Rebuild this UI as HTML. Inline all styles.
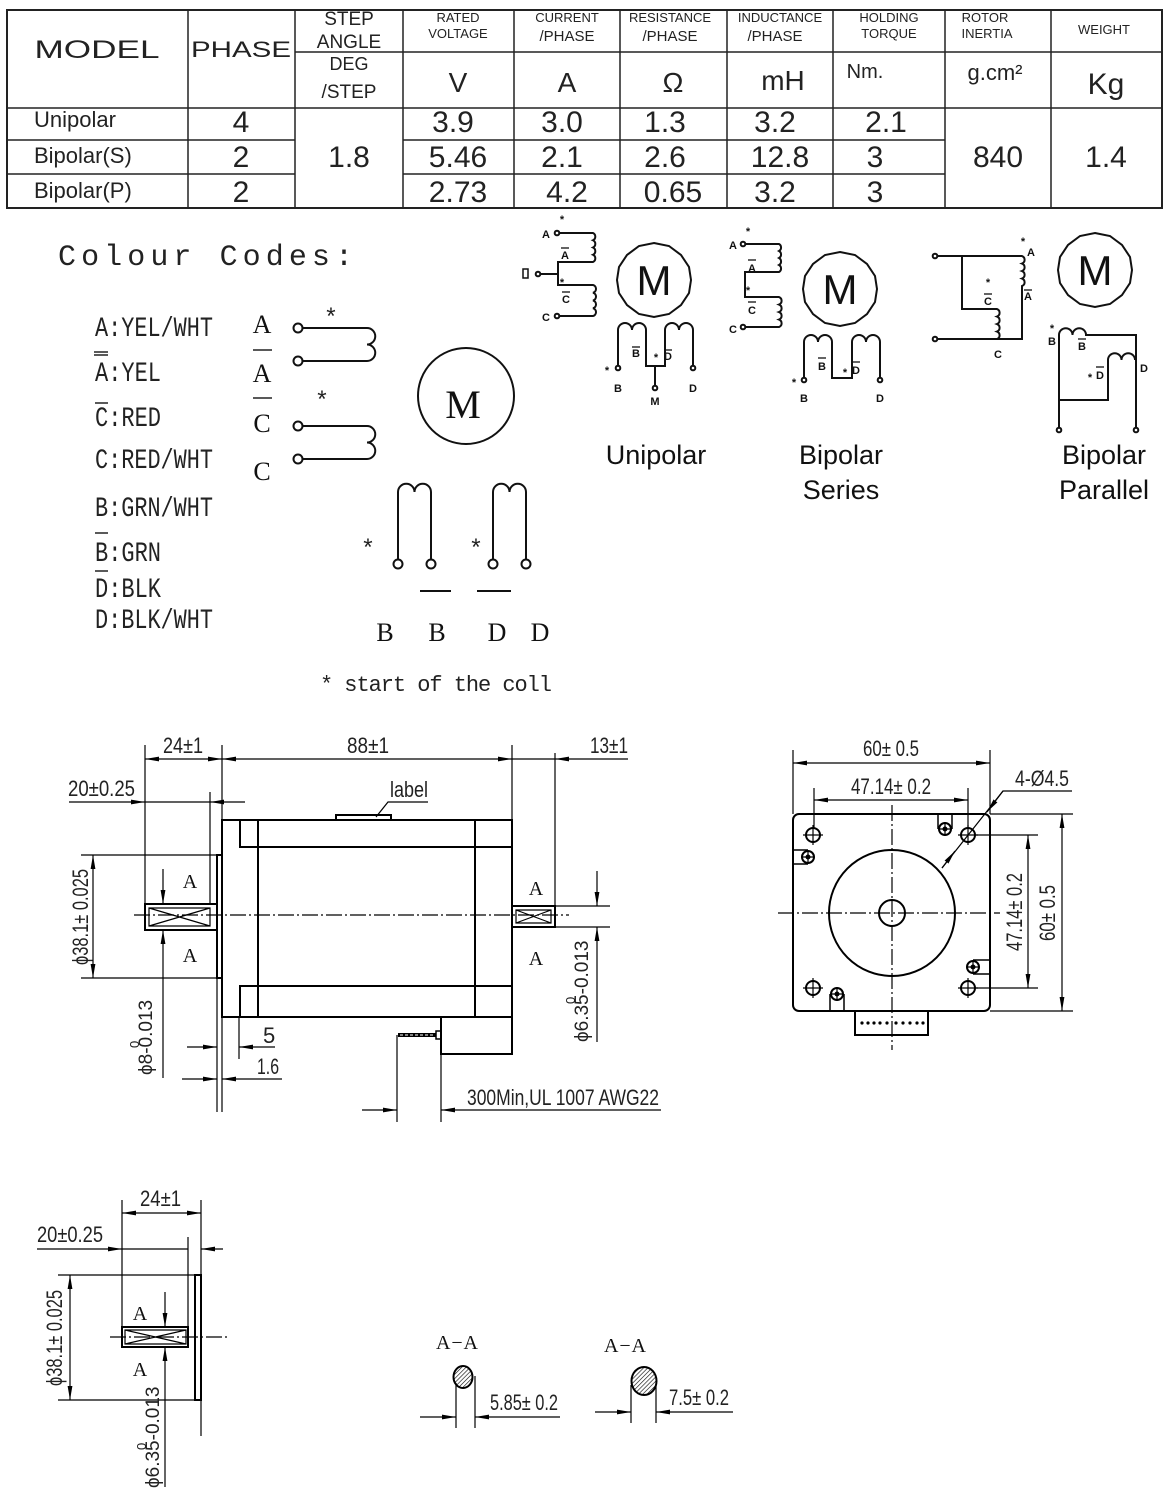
<!DOCTYPE html>
<html><head><meta charset="utf-8"><style>
html,body{margin:0;padding:0;background:#fff;}
svg{display:block;}
.c{font-family:"Liberation Sans Narrow","Liberation Sans",sans-serif;fill:#222;}
.m{font-family:"Liberation Mono",monospace;fill:#222;}
.s{font-family:"Liberation Serif",serif;fill:#111;}
.b{font-family:"Liberation Sans",sans-serif;fill:#111;font-weight:bold;}
.a{font-family:"Liberation Sans",sans-serif;fill:#111;}
</style></head><body>
<svg width="1166" height="1497" viewBox="0 0 1166 1497" xmlns="http://www.w3.org/2000/svg">
<defs>
<marker id="ar" viewBox="0 0 14 6" refX="14" refY="3" markerWidth="14" markerHeight="6" markerUnits="userSpaceOnUse" orient="auto-start-reverse"><path d="M0,0.6 L14,3 L0,5.4z" fill="#000"/></marker>
<pattern id="h" width="3" height="3" patternUnits="userSpaceOnUse" patternTransform="rotate(45)"><line x1="0" y1="0" x2="0" y2="3" stroke="#000" stroke-width="1.2"/></pattern>
</defs>

<!-- TABLE -->
<g stroke="#222" fill="none">
<rect x="7" y="10" width="1155" height="198" stroke-width="2"/>
<g stroke-width="1.5">
<line x1="188" y1="10" x2="188" y2="208"/><line x1="295" y1="10" x2="295" y2="208"/>
<line x1="403" y1="10" x2="403" y2="208"/><line x1="514" y1="10" x2="514" y2="208"/>
<line x1="620" y1="10" x2="620" y2="208"/><line x1="727" y1="10" x2="727" y2="208"/>
<line x1="833" y1="10" x2="833" y2="208"/><line x1="945" y1="10" x2="945" y2="208"/>
<line x1="1051" y1="10" x2="1051" y2="208"/>
<line x1="295" y1="52" x2="1162" y2="52"/>
<line x1="7" y1="108" x2="1162" y2="108"/>
<line x1="7" y1="140" x2="295" y2="140"/><line x1="403" y1="140" x2="945" y2="140"/>
<line x1="7" y1="174" x2="295" y2="174"/><line x1="403" y1="174" x2="945" y2="174"/>
</g></g>
<g class="c" text-anchor="middle">
<text x="97" y="58" font-size="25" textLength="125" lengthAdjust="spacingAndGlyphs">MODEL</text>
<text x="241" y="57" font-size="22" textLength="100" lengthAdjust="spacingAndGlyphs">PHASE</text>
<text x="349" y="25" font-size="19">STEP</text><text x="349" y="48" font-size="19">ANGLE</text>
<text x="349" y="70" font-size="18">DEG</text><text x="349" y="98" font-size="19">/STEP</text>
<text x="458" y="22" font-size="13">RATED</text><text x="458" y="38" font-size="13">VOLTAGE</text>
<text x="567" y="22" font-size="13">CURRENT</text><text x="567" y="41" font-size="15">/PHASE</text>
<text x="670" y="22" font-size="13">RESISTANCE</text><text x="670" y="41" font-size="15">/PHASE</text>
<text x="780" y="22" font-size="13">INDUCTANCE</text><text x="775" y="41" font-size="15">/PHASE</text>
<text x="889" y="22" font-size="13">HOLDING</text><text x="889" y="38" font-size="13">TORQUE</text>
<text x="985" y="22" font-size="13">ROTOR</text><text x="987" y="38" font-size="13">INERTIA</text>
<text x="1104" y="34" font-size="13">WEIGHT</text>
<text x="458" y="92" font-size="28">V</text><text x="567" y="92" font-size="28">A</text>
<text x="673" y="92" font-size="28">Ω</text><text x="783" y="90" font-size="28">mH</text>
<text x="865" y="78" font-size="20">Nm.</text><text x="995" y="80" font-size="22">g.cm²</text>
<text x="1106" y="94" font-size="30">Kg</text>
<g font-size="30">
<text x="241" y="132">4</text><text x="241" y="167">2</text><text x="241" y="202">2</text>
<text x="349" y="167">1.8</text>
<text x="453" y="132">3.9</text><text x="562" y="132">3.0</text><text x="665" y="132">1.3</text><text x="775" y="132">3.2</text><text x="886" y="132">2.1</text>
<text x="458" y="167">5.46</text><text x="562" y="167">2.1</text><text x="665" y="167">2.6</text><text x="780" y="167">12.8</text><text x="875" y="167">3</text>
<text x="458" y="202">2.73</text><text x="567" y="202">4.2</text><text x="673" y="202">0.65</text><text x="775" y="202">3.2</text><text x="875" y="202">3</text>
<text x="998" y="167">840</text><text x="1106" y="167">1.4</text>
</g></g>
<g class="c" font-size="22">
<text x="34" y="127">Unipolar</text><text x="34" y="163">Bipolar(S)</text><text x="34" y="198">Bipolar(P)</text>
</g>

<!-- COLOUR CODES -->
<text class="m" x="58" y="265" font-size="30" textLength="295" lengthAdjust="spacing">Colour Codes:</text>
<g class="m" font-size="28">
<text x="95" y="336" textLength="118" lengthAdjust="spacingAndGlyphs">A:YEL/WHT</text>
<text x="95" y="381" textLength="66" lengthAdjust="spacingAndGlyphs">A:YEL</text>
<text x="95" y="426" textLength="66" lengthAdjust="spacingAndGlyphs">C:RED</text>
<text x="95" y="468" textLength="118" lengthAdjust="spacingAndGlyphs">C:RED/WHT</text>
<text x="95" y="516" textLength="118" lengthAdjust="spacingAndGlyphs">B:GRN/WHT</text>
<text x="95" y="561" textLength="66" lengthAdjust="spacingAndGlyphs">B:GRN</text>
<text x="95" y="597" textLength="66" lengthAdjust="spacingAndGlyphs">D:BLK</text>
<text x="95" y="628" textLength="118" lengthAdjust="spacingAndGlyphs">D:BLK/WHT</text>
</g>
<g stroke="#222" stroke-width="1.5">
<line x1="94" y1="355" x2="108" y2="355"/><line x1="94" y1="352" x2="108" y2="352"/>
<line x1="95" y1="403" x2="108" y2="403"/><line x1="95" y1="533" x2="108" y2="533"/>
<line x1="95" y1="571" x2="108" y2="571"/>
<line x1="253" y1="350" x2="272" y2="350"/><line x1="253" y1="398" x2="272" y2="398"/>
</g>
<g class="s" font-size="26" text-anchor="middle">
<text x="262" y="333">A</text><text x="262" y="382">A</text><text x="262" y="432">C</text><text x="262" y="480">C</text>
<text x="463" y="418" font-size="40">M</text>
<text x="385" y="641">B</text><text x="437" y="641">B</text><text x="497" y="641">D</text><text x="540" y="641">D</text>
</g>
<g fill="none" stroke="#111" stroke-width="2">
<circle cx="298" cy="328" r="4.5"/><circle cx="298" cy="361" r="4.5"/>
<circle cx="298" cy="426" r="4.5"/><circle cx="298" cy="459" r="4.5"/>
<path d="M302 328 H367 a8 8 0 0 1 0 16.5 a8 8 0 0 1 0 16.5 H302"/>
<path d="M302 426 H367 a8 8 0 0 1 0 16.5 a8 8 0 0 1 0 16.5 H302"/>
<circle cx="466" cy="396" r="48"/>
<path d="M398 559 V492 a8.2 8.2 0 0 1 16.5 0 a8.2 8.2 0 0 1 16.5 0 V559"/>
<path d="M493 559 V492 a8.2 8.2 0 0 1 16.5 0 a8.2 8.2 0 0 1 16.5 0 V559"/>
<circle cx="398" cy="564" r="4.5"/><circle cx="431" cy="564" r="4.5"/>
<circle cx="493" cy="564" r="4.5"/><circle cx="526" cy="564" r="4.5"/>
<line x1="420" y1="591" x2="451" y2="591"/><line x1="477" y1="591" x2="511" y2="591"/>
</g>
<g class="m" font-size="24" text-anchor="middle">
<text x="331" y="325">*</text><text x="322" y="408">*</text><text x="368" y="556">*</text><text x="476" y="556">*</text>
</g>
<text class="m" x="320" y="691" font-size="22" textLength="232" lengthAdjust="spacing">* start of the coll</text>

<!-- WIRING: UNIPOLAR -->
<g fill="none" stroke="#111" stroke-width="2">
<polygon points="654,243 669,246 681,255 689,267 691,280 689,293 681,305 669,314 654,317 639,314 627,305 619,293 617,280 619,267 627,255 639,246"/>
<path d="M560 233 H593 a4 4 0 0 1 0 7.25 a4 4 0 0 1 0 7.25 a4 4 0 0 1 0 7.25 a4 4 0 0 1 0 7.25 H558 V285 H593 a4 4 0 0 1 0 7.75 a4 4 0 0 1 0 7.75 a4 4 0 0 1 0 7.75 a4 4 0 0 1 0 7.75 H560"/>
<line x1="540" y1="274" x2="558" y2="274"/>
<circle cx="557" cy="233" r="2.3"/><circle cx="557" cy="316" r="2.3"/><circle cx="538" cy="274" r="2.3"/>
<rect x="523" y="269" width="5" height="9" stroke-width="1.5"/>
<path d="M618 366 V330 a7 7 0 0 1 14 0 a7 7 0 0 1 14 0 V366 H665 V330 a7 7 0 0 1 14 0 a7 7 0 0 1 14 0 V366"/>
<line x1="655" y1="366" x2="655" y2="386"/>
<circle cx="618" cy="368" r="2.3"/><circle cx="693" cy="368" r="2.3"/><circle cx="655" cy="388" r="2.3"/>
</g>
<g class="b" font-size="11" text-anchor="middle">
<text x="546" y="238">A</text><text x="562" y="223">*</text><text x="565" y="259">A</text><text x="562" y="286">*</text>
<text x="566" y="303">C</text><text x="546" y="321">C</text>
<text x="607" y="374">*</text><text x="618" y="392">B</text><text x="636" y="357">B</text><text x="656" y="361">*</text><text x="668" y="360">D</text>
<text x="655" y="405">M</text><text x="693" y="392">D</text>
</g>
<g stroke="#111" stroke-width="1.3">
<line x1="561" y1="248" x2="569" y2="248"/><line x1="562" y1="292" x2="570" y2="292"/>
<line x1="632" y1="347" x2="640" y2="347"/><line x1="664" y1="350" x2="672" y2="350"/>
</g>

<!-- WIRING: SERIES -->
<g fill="none" stroke="#111" stroke-width="2">
<polygon points="840,252 855,255 867,264 875,276 877,289 875,302 867,314 855,323 840,326 825,323 813,314 805,302 803,289 805,276 813,264 825,255"/>
<path d="M746 244 H779 a4 4 0 0 1 0 7 a4 4 0 0 1 0 7 a4 4 0 0 1 0 7 a4 4 0 0 1 0 7 H745 V297 H779 a4 4 0 0 1 0 7.5 a4 4 0 0 1 0 7.5 a4 4 0 0 1 0 7.5 a4 4 0 0 1 0 7.5 H746"/>
<circle cx="743" cy="244" r="2.3"/><circle cx="743" cy="327" r="2.3"/>
<path d="M804 378 V342 a7 7 0 0 1 14 0 a7 7 0 0 1 14 0 V378 H852 V342 a7 7 0 0 1 14 0 a7 7 0 0 1 14 0 V378"/>
<circle cx="804" cy="380" r="2.3"/><circle cx="880" cy="380" r="2.3"/>
</g>
<g class="b" font-size="11" text-anchor="middle">
<text x="748" y="235">*</text><text x="733" y="249">A</text><text x="752" y="272">A</text><text x="748" y="294">*</text>
<text x="752" y="314">C</text><text x="733" y="333">C</text>
<text x="794" y="386">*</text><text x="804" y="402">B</text><text x="822" y="370">B</text><text x="845" y="376">*</text><text x="856" y="374">D</text><text x="880" y="402">D</text>
</g>
<g stroke="#111" stroke-width="1.3">
<line x1="748" y1="260" x2="756" y2="260"/><line x1="748" y1="302" x2="756" y2="302"/>
<line x1="818" y1="358" x2="826" y2="358"/><line x1="852" y1="362" x2="860" y2="362"/>
</g>

<!-- WIRING: PARALLEL -->
<g fill="none" stroke="#111" stroke-width="2">
<polygon points="1095,233 1110,236 1122,245 1130,257 1132,270 1130,283 1122,295 1110,304 1095,307 1080,304 1068,295 1060,283 1058,270 1060,257 1068,245 1080,236"/>
<path d="M937 256 H1022 a4 4 0 0 1 0 7.5 a4 4 0 0 1 0 7.5 a4 4 0 0 1 0 7.5 a4 4 0 0 1 0 7.5 V339 H937"/>
<path d="M962 256 V309 H997 a4 4 0 0 1 0 7.5 a4 4 0 0 1 0 7.5 a4 4 0 0 1 0 7.5 a4 4 0 0 1 0 7.5"/>
<circle cx="935" cy="256" r="2.3"/><circle cx="935" cy="339" r="2.3"/>
<path d="M1059 428 V335 a6.7 6.7 0 0 1 13.5 0 a6.7 6.7 0 0 1 13.5 0 H1136 V428"/>
<path d="M1059 400 H1108 V360 a6.7 6.7 0 0 1 13.5 0 a6.7 6.7 0 0 1 13.5 0"/>
<circle cx="1059" cy="430" r="2.3"/><circle cx="1136" cy="430" r="2.3"/>
</g>
<g class="c" font-size="42" text-anchor="middle" style="fill:#111">
<text x="654" y="295">M</text><text x="840" y="304">M</text><text x="1095" y="285">M</text>
</g>
<g class="b" font-size="11" text-anchor="middle">
<text x="1023" y="245">*</text><text x="1031" y="256">A</text><text x="1028" y="300">A</text>
<text x="988" y="286">*</text><text x="988" y="305">C</text><text x="998" y="358">C</text>
<text x="1052" y="332">*</text><text x="1052" y="345">B</text><text x="1082" y="350">B</text>
<text x="1090" y="381">*</text><text x="1100" y="379">D</text><text x="1144" y="372">D</text>
</g>
<g stroke="#111" stroke-width="1.3">
<line x1="1024" y1="290" x2="1032" y2="290"/><line x1="984" y1="294" x2="992" y2="294"/>
<line x1="1078" y1="339" x2="1086" y2="339"/><line x1="1096" y1="367" x2="1104" y2="367"/>
</g>
<g class="a" font-size="27" text-anchor="middle">
<text x="656" y="464">Unipolar</text>
<text x="841" y="464">Bipolar</text><text x="841" y="499">Series</text>
<text x="1104" y="464">Bipolar</text><text x="1104" y="499">Parallel</text>
</g>

<!-- SIDE VIEW -->
<g fill="none" stroke="#000">
<g stroke-width="2">
<rect x="222" y="820" width="290" height="197"/>
<path d="M240 820 V847 H512"/><path d="M240 1017 V986 H512"/>
<line x1="258" y1="820" x2="258" y2="1017"/><line x1="475" y1="820" x2="475" y2="1017"/>
<rect x="336" y="815" width="55" height="5"/>
<rect x="217" y="855" width="5" height="123"/>
<rect x="441" y="1017" width="71" height="37"/>
<rect x="145" y="904" width="72" height="26"/>
<rect x="512" y="906" width="43" height="21"/>
<rect x="436" y="1031" width="5" height="8" stroke-width="1.5"/>
</g>
<g stroke-width="1.2">
<path d="M149 908 H210 V926 H149Z M149 908 L210 926 M149 926 L210 908"/>
<path d="M516 910 H551 V923 H516Z M516 910 L551 923 M516 923 L551 910"/>
<line x1="398" y1="1035" x2="436" y2="1035" stroke-width="4"/>
<line x1="400" y1="1035" x2="434" y2="1035" stroke="#fff" stroke-width="1" stroke-dasharray="3,2"/>
<line x1="134" y1="915" x2="569" y2="915" stroke-dasharray="16,3,2,3"/>
<line x1="145" y1="745" x2="145" y2="904"/><line x1="222" y1="745" x2="222" y2="1112"/>
<line x1="217" y1="978" x2="217" y2="1112"/><line x1="210" y1="792" x2="210" y2="904"/>
<line x1="512" y1="745" x2="512" y2="820"/><line x1="555" y1="753" x2="555" y2="906"/>
<line x1="81" y1="855" x2="217" y2="855"/><line x1="81" y1="978" x2="217" y2="978"/>
<line x1="555" y1="906" x2="610" y2="906"/><line x1="555" y1="927" x2="610" y2="927"/>
<line x1="239" y1="1017" x2="239" y2="1059"/>
<line x1="397" y1="1035" x2="397" y2="1122"/><line x1="441" y1="1054" x2="441" y2="1122"/>
<line x1="145" y1="759" x2="222" y2="759" marker-start="url(#ar)" marker-end="url(#ar)"/>
<line x1="222" y1="759" x2="512" y2="759" marker-start="url(#ar)" marker-end="url(#ar)"/>
<line x1="512" y1="759" x2="555" y2="759"/>
<line x1="628" y1="759" x2="555" y2="759" marker-end="url(#ar)"/>
<line x1="69" y1="802" x2="145" y2="802" marker-end="url(#ar)"/>
<line x1="145" y1="802" x2="210" y2="802"/>
<line x1="245" y1="802" x2="210" y2="802" marker-end="url(#ar)"/>
<line x1="93" y1="855" x2="93" y2="978" marker-start="url(#ar)" marker-end="url(#ar)"/>
<line x1="163" y1="869" x2="163" y2="904" marker-end="url(#ar)"/>
<line x1="163" y1="1078" x2="163" y2="930" marker-end="url(#ar)"/>
<line x1="597" y1="871" x2="597" y2="906" marker-end="url(#ar)"/>
<line x1="597" y1="1042" x2="597" y2="927" marker-end="url(#ar)"/>
<line x1="187" y1="1047" x2="217" y2="1047" marker-end="url(#ar)"/>
<line x1="275" y1="1047" x2="239" y2="1047" marker-end="url(#ar)"/>
<line x1="182" y1="1079" x2="217" y2="1079" marker-end="url(#ar)"/>
<line x1="282" y1="1079" x2="222" y2="1079" marker-end="url(#ar)"/>
<line x1="362" y1="1110" x2="397" y2="1110" marker-end="url(#ar)"/>
<line x1="661" y1="1110" x2="441" y2="1110" marker-end="url(#ar)"/>
<path d="M376 817 L388 802 H428"/>
</g></g>
<g class="c" font-size="22">
<text x="163" y="753" textLength="40" lengthAdjust="spacingAndGlyphs">24±1</text>
<text x="347" y="753" textLength="42" lengthAdjust="spacingAndGlyphs">88±1</text>
<text x="590" y="753" textLength="38" lengthAdjust="spacingAndGlyphs">13±1</text>
<text x="68" y="796" textLength="67" lengthAdjust="spacingAndGlyphs">20±0.25</text>
<text x="390" y="797" textLength="38" lengthAdjust="spacingAndGlyphs">label</text>
<text x="263" y="1043">5</text>
<text x="257" y="1074" textLength="22" lengthAdjust="spacingAndGlyphs">1.6</text>
<text x="467" y="1105" textLength="192" lengthAdjust="spacingAndGlyphs">300Min,UL 1007 AWG22</text>
<text transform="translate(88,917) rotate(-90)" text-anchor="middle" textLength="96" lengthAdjust="spacingAndGlyphs">ϕ38.1± 0.025</text>
<text transform="translate(152,1075) rotate(-90)" font-size="19">ϕ8-0.013</text>
<text transform="translate(139,1048) rotate(-90)" font-size="13">0</text>
<text transform="translate(588,1042) rotate(-90)" font-size="19">ϕ6.35-0.013</text>
<text transform="translate(575,1004) rotate(-90)" font-size="13">0</text>
</g>
<g class="s" font-size="20" text-anchor="middle">
<text x="190" y="888">A</text><text x="190" y="962">A</text>
<text x="536" y="895">A</text><text x="536" y="965">A</text>
</g>

<!-- FRONT VIEW -->
<g fill="none" stroke="#000">
<g stroke-width="2">
<rect x="793" y="814" width="197" height="197" rx="6"/>
<circle cx="892" cy="913" r="63"/><circle cx="892" cy="913" r="13"/>
<rect x="855" y="1011" width="73" height="24"/>
<circle cx="813" cy="835" r="7"/><circle cx="968" cy="835" r="7"/>
<circle cx="813" cy="988" r="7"/><circle cx="968" cy="988" r="7"/>
<circle cx="945" cy="829" r="6"/><circle cx="808" cy="857" r="6"/>
<circle cx="973" cy="967" r="6"/><circle cx="837" cy="994" r="6"/>
<path d="M938 829 V814 M952 829 V814 M808 850 H793 M808 864 H793 M973 960 H990 M973 974 H990 M830 994 V1011 M844 994 V1011" stroke-width="1.5"/>
</g>
<g stroke-width="1.2">
<path d="M803 835 H823 M813 825 V845 M958 835 H978 M968 825 V845 M803 988 H823 M813 978 V998 M958 988 H978 M968 978 V998"/>
<path d="M938 829 H952 M945 822 V836 M801 857 H815 M808 850 V864 M966 967 H980 M973 960 V974 M830 994 H844 M837 987 V1001"/>
<line x1="892" y1="805" x2="892" y2="1050" stroke-dasharray="16,3,2,3"/>
<line x1="778" y1="913" x2="1000" y2="913" stroke-dasharray="16,3,2,3"/>
<line x1="793" y1="750" x2="793" y2="814"/><line x1="990" y1="750" x2="990" y2="814"/>
<line x1="814" y1="788" x2="814" y2="828"/><line x1="968" y1="788" x2="968" y2="828"/>
<line x1="793" y1="763" x2="990" y2="763" marker-start="url(#ar)" marker-end="url(#ar)"/>
<line x1="814" y1="800" x2="968" y2="800" marker-start="url(#ar)" marker-end="url(#ar)"/>
<line x1="975" y1="835" x2="1038" y2="835"/><line x1="975" y1="988" x2="1038" y2="988"/>
<line x1="990" y1="814" x2="1073" y2="814"/><line x1="990" y1="1011" x2="1073" y2="1011"/>
<line x1="1028" y1="835" x2="1028" y2="988" marker-start="url(#ar)" marker-end="url(#ar)"/>
<line x1="1062" y1="814" x2="1062" y2="1011" marker-start="url(#ar)" marker-end="url(#ar)"/>
<path d="M1072 791 H1003 L942 868"/>
<line x1="1003" y1="791" x2="987" y2="812" marker-end="url(#ar)"/>
<line x1="942" y1="868" x2="955" y2="851" marker-end="url(#ar)"/>
</g>
<g fill="#000" stroke="none">
<circle cx="945" cy="829" r="2.5"/><circle cx="808" cy="857" r="2.5"/><circle cx="973" cy="967" r="2.5"/><circle cx="837" cy="994" r="2.5"/>
<circle cx="862" cy="1023" r="1.6"/><circle cx="868" cy="1023" r="1.6"/><circle cx="874" cy="1023" r="1.6"/><circle cx="880" cy="1023" r="1.6"/><circle cx="887" cy="1023" r="1.6"/>
<circle cx="896" cy="1023" r="1.6"/><circle cx="903" cy="1023" r="1.6"/><circle cx="910" cy="1023" r="1.6"/><circle cx="917" cy="1023" r="1.6"/><circle cx="923" cy="1023" r="1.6"/>
</g></g>
<g class="c" font-size="22">
<text x="863" y="756" textLength="56" lengthAdjust="spacingAndGlyphs">60± 0.5</text>
<text x="851" y="794" textLength="80" lengthAdjust="spacingAndGlyphs">47.14± 0.2</text>
<text x="1015" y="786" textLength="54" lengthAdjust="spacingAndGlyphs">4-Ø4.5</text>
<text transform="translate(1022,912) rotate(-90)" text-anchor="middle" textLength="78" lengthAdjust="spacingAndGlyphs">47.14± 0.2</text>
<text transform="translate(1055,913) rotate(-90)" text-anchor="middle" textLength="56" lengthAdjust="spacingAndGlyphs">60± 0.5</text>
</g>

<!-- BOTTOM-LEFT VIEW -->
<g fill="none" stroke="#000">
<g stroke-width="2">
<rect x="195" y="1275" width="6" height="125"/>
<rect x="122" y="1327" width="66" height="20"/>
</g>
<g stroke-width="1.2">
<path d="M125 1330 H186 V1344 H125Z M125 1330 L186 1344 M125 1344 L186 1330"/>
<line x1="110" y1="1337" x2="228" y2="1337" stroke-dasharray="16,3,2,3"/>
<line x1="201" y1="1200" x2="201" y2="1436"/><line x1="122" y1="1200" x2="122" y2="1327"/>
<line x1="188" y1="1237" x2="188" y2="1327"/>
<line x1="58" y1="1275" x2="195" y2="1275"/><line x1="58" y1="1400" x2="195" y2="1400"/>
<line x1="122" y1="1213" x2="201" y2="1213" marker-start="url(#ar)" marker-end="url(#ar)"/>
<line x1="37" y1="1249" x2="122" y2="1249" marker-end="url(#ar)"/>
<line x1="122" y1="1249" x2="188" y2="1249"/>
<line x1="223" y1="1249" x2="201" y2="1249" marker-end="url(#ar)"/>
<line x1="70" y1="1275" x2="70" y2="1400" marker-start="url(#ar)" marker-end="url(#ar)"/>
<line x1="165" y1="1292" x2="165" y2="1327" marker-end="url(#ar)"/>
<line x1="165" y1="1487" x2="165" y2="1347" marker-end="url(#ar)"/>
</g></g>
<g class="c" font-size="22">
<text x="140" y="1206" textLength="41" lengthAdjust="spacingAndGlyphs">24±1</text>
<text x="37" y="1242" textLength="66" lengthAdjust="spacingAndGlyphs">20±0.25</text>
<text transform="translate(62,1338) rotate(-90)" text-anchor="middle" textLength="96" lengthAdjust="spacingAndGlyphs">ϕ38.1± 0.025</text>
<text transform="translate(159,1488) rotate(-90)" font-size="19">ϕ6.35-0.013</text>
<text transform="translate(146,1450) rotate(-90)" font-size="13">0</text>
</g>
<g class="s" font-size="20" text-anchor="middle">
<text x="140" y="1320">A</text><text x="140" y="1376">A</text>
</g>

<!-- SECTIONS -->
<g fill="none" stroke="#000" stroke-width="1.2">
<ellipse cx="463" cy="1377" rx="9.5" ry="11" fill="url(#h)" stroke-width="2"/>
<line x1="456" y1="1383" x2="456" y2="1428"/><line x1="475" y1="1376" x2="475" y2="1428"/>
<line x1="420" y1="1417" x2="456" y2="1417" marker-end="url(#ar)"/>
<line x1="560" y1="1417" x2="475" y2="1417" marker-end="url(#ar)"/>
<ellipse cx="644" cy="1381" rx="12.5" ry="14" fill="url(#h)" stroke-width="2"/>
<line x1="631" y1="1385" x2="631" y2="1423"/><line x1="656" y1="1385" x2="656" y2="1423"/>
<line x1="595" y1="1412" x2="631" y2="1412" marker-end="url(#ar)"/>
<line x1="733" y1="1412" x2="656" y2="1412" marker-end="url(#ar)"/>
</g>
<g class="c" font-size="22">
<text x="490" y="1410" textLength="68" lengthAdjust="spacingAndGlyphs">5.85± 0.2</text>
<text x="669" y="1405" textLength="60" lengthAdjust="spacingAndGlyphs">7.5± 0.2</text>
</g>
<g class="s" font-size="20">
<text x="436" y="1349" textLength="42" lengthAdjust="spacing">A−A</text>
<text x="604" y="1352" textLength="42" lengthAdjust="spacing">A−A</text>
</g>
</svg>
</body></html>
